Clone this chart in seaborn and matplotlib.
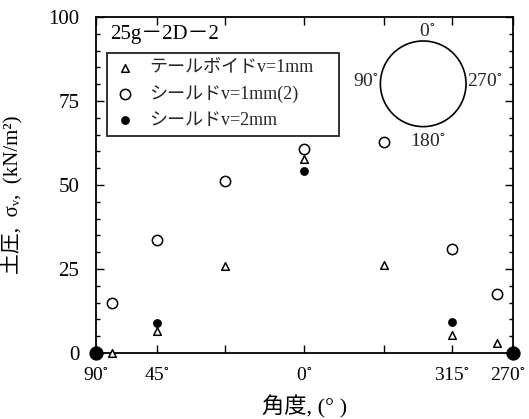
import matplotlib
matplotlib.use('Agg')
import matplotlib.pyplot as plt
import matplotlib.transforms as mtransforms
import seaborn as sns
import pandas as pd
import numpy as np

# 角度 (deg) と 土圧 (kN/m2)
ang_tail = [67.5, 45, 22.5, 0, 337.5, 315, 292.5]
val_tail = [0.0, 6.5, 26.0, 57.7, 26.3, 5.4, 2.9]

ang_sh1 = [67.5, 45, 22.5, 0, 337.5, 315, 292.5]
val_sh1 = [14.8, 33.6, 51.2, 60.7, 62.7, 31.0, 17.6]

ang_sh2 = [90, 45, 0, 315, 270]
val_sh2 = [0.0, 8.8, 54.2, 9.3, 0.0]

deg = '$^{\\circ}$'
tick_angles = [90, 45, 22.5, 0, 337.5, 315, 270]
tick_labels = ['90' + deg, '45' + deg, '', '0' + deg, '', '315' + deg, '270' + deg]

labels = ['テールボイドv=1mm', 'シールドv=1mm(2)', 'シールドv=2mm']


def xpos(a):
    # 横方向位置 (円周上の水平座標)
    return -np.sin(np.deg2rad(np.asarray(a, dtype=float)))


df_tail = pd.DataFrame({'x': xpos(ang_tail), 'y': val_tail})
df_sh1 = pd.DataFrame({'x': xpos(ang_sh1), 'y': val_sh1})
df_sh2 = pd.DataFrame({'x': xpos(ang_sh2), 'y': val_sh2})

sns.set_theme(style='white')
fam = ['Liberation Serif', 'Noto Sans CJK JP', 'DejaVu Sans']
plt.rcParams['font.family'] = fam
plt.rcParams['mathtext.fontset'] = 'stix'

fig = plt.figure(figsize=(5.29, 4.19), dpi=100)
ax = fig.add_axes([0.1815, 0.1575, 0.788, 0.802])

sns.scatterplot(data=df_tail, x='x', y='y', marker='^', s=30, facecolor='white',
                edgecolor='black', linewidth=1.1, ax=ax, label=labels[0], clip_on=False, zorder=3)
sns.scatterplot(data=df_sh1, x='x', y='y', marker='o', s=55, facecolor='white',
                edgecolor='black', linewidth=1.1, ax=ax, label=labels[1], clip_on=False, zorder=3)
inner = df_sh2[df_sh2['x'].abs() < 0.99]
ends = df_sh2[df_sh2['x'].abs() >= 0.99]
sns.scatterplot(data=inner, x='x', y='y', marker='o', s=34, color='black',
                edgecolor='black', ax=ax, label=labels[2], clip_on=False, zorder=3)
sns.scatterplot(data=ends, x='x', y='y', marker='o', s=90, color='black',
                edgecolor='black', ax=ax, clip_on=False, zorder=4, legend=False)

ax.set_xlim(-1, 1)
ax.set_ylim(0, 100)
ax.set_xticks(xpos(tick_angles))
ax.set_xticklabels(tick_labels)
ax.set_yticks([0, 25, 50, 75, 100])
ax.set_yticks(np.arange(0, 101, 5), minor=True)
ax.tick_params(axis='both', which='both', direction='in', top=True, right=True,
               bottom=True, left=True, labelsize=15, colors='black')
ax.tick_params(axis='x', labelsize=14)
ax.tick_params(axis='both', which='major', length=6, width=1)
ax.tick_params(axis='y', which='minor', length=3, width=1)
ax.tick_params(axis='x', which='major', pad=10)
ax.tick_params(axis='y', which='major', pad=12)
for sp in ax.spines.values():
    sp.set_color('black')
    sp.set_linewidth(1.3)

# 右端の目盛ラベルを少し左へ
last = ax.get_xticklabels()[-1]
last.set_transform(last.get_transform() + mtransforms.ScaledTranslation(-5 / 100, 0, fig.dpi_scale_trans))

ax.set_xlabel('角度, (° )', fontsize=16, color='black', labelpad=8)
ax.set_ylabel('土圧,  σᵥ,  (kN/m²)', fontsize=15, color='black')
ax.yaxis.set_label_coords(-0.175, 0.47)

ax.text(0.035, 0.975, '25g－2D－2', transform=ax.transAxes, fontsize=15,
        ha='left', va='top', color='black')

leg = ax.legend(loc='upper left', bbox_to_anchor=(0.026, 0.5, 0.556, 0.393), mode='expand',
                borderaxespad=0, fontsize=13, frameon=True, fancybox=False,
                handletextpad=0.7, labelspacing=0.5, borderpad=0.35, handlelength=1.3)
leg.get_frame().set_edgecolor('black')
leg.get_frame().set_linewidth(1.4)

# 断面位置の図
ins = fig.add_axes([0.715, 0.69, 0.17, 0.22])
ins.set_aspect('equal')
ins.add_patch(plt.Circle((0, 0), 1, fill=False, color='black', lw=1.2))
ins.set_xlim(-1.05, 1.05)
ins.set_ylim(-1.05, 1.05)
ins.axis('off')
fig.text(0.808, 0.905, '0' + deg, fontsize=14, ha='center', va='bottom')
fig.text(0.717, 0.805, '90' + deg, fontsize=14, ha='right', va='center')
fig.text(0.882, 0.805, '270' + deg, fontsize=14, ha='left', va='center')
fig.text(0.808, 0.682, '180' + deg, fontsize=14, ha='center', va='top')

fig.savefig('out.png', dpi=100)
